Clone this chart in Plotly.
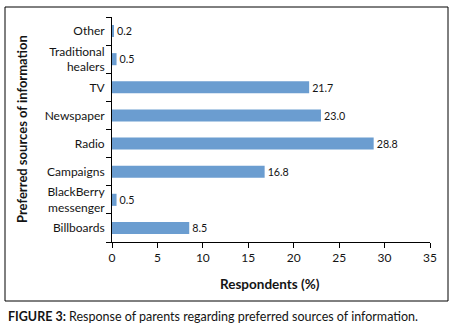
import plotly.graph_objects as go

categories = ["Billboards", "BlackBerry<br>messenger", "Campaigns", "Radio",
              "Newspaper", "TV", "Traditional<br>healers", "Other"]
values = [8.5, 0.5, 16.8, 28.8, 23.0, 21.7, 0.5, 0.2]
x_ticks = [0, 5, 10, 15, 20, 25, 30, 35]

FONT = "Lato, Carlito, 'Liberation Sans', sans-serif"
BAR = "#6B9DD0"
TXT = "#141414"

L, R, T, B = 112, 24, 17, 85
W, H = 454, 327
pw, ph = W - L - R, H - T - B

def px(x):
    return (x - L) / pw

def py(y):
    return (H - B - y) / ph

fig = go.Figure(go.Bar(
    x=values, y=categories, orientation="h",
    marker=dict(color=BAR, line=dict(width=0)),
    width=0.43,
    texttemplate="%{x:.1f}", textposition="outside",
    textfont=dict(family=FONT, size=11.5, color=TXT),
    cliponaxis=False,
))

fig.update_layout(
    width=W, height=H,
    margin=dict(l=L, r=R, t=T, b=B, autoexpand=False),
    paper_bgcolor="white", plot_bgcolor="white",
    showlegend=False,
    font=dict(family=FONT, size=12, color=TXT),
    xaxis=dict(range=[0, 35], tickvals=x_ticks, showgrid=False, zeroline=False,
               showline=True, linecolor="black", linewidth=1,
               ticks="outside", ticklen=5, tickcolor="black",
               tickfont=dict(size=12, color=TXT), automargin=False),
    yaxis=dict(categoryorder="array", categoryarray=categories,
               range=[-0.5, 7.5], showgrid=False, zeroline=False,
               showline=True, linecolor="black", linewidth=1,
               ticks="outside", ticklen=5, tickcolor="black",
               tickson="boundaries", ticklabelstandoff=4,
               tickfont=dict(size=12, color=TXT), automargin=False),
    shapes=[dict(type="rect", xref="paper", yref="paper",
                 x0=px(5), x1=px(448), y0=py(301), y1=py(7),
                 line=dict(color="black", width=1), fillcolor="rgba(0,0,0,0)",
                 layer="below")],
    annotations=[
        dict(text="<b>Preferred sources of information</b>", xref="paper", yref="paper",
             x=px(22), y=py(129), textangle=-90, showarrow=False,
             font=dict(size=13, color=TXT), xanchor="center", yanchor="middle"),
        dict(text="<b>Respondents (%)</b>", xref="paper", yref="paper",
             x=px(270), y=py(284), showarrow=False,
             font=dict(size=13.5, color=TXT), xanchor="center", yanchor="middle"),
        dict(text="<b>FIGURE 3:</b> Response of parents regarding preferred sources of information.",
             xref="paper", yref="paper", x=px(6), y=py(316), showarrow=False,
             font=dict(size=12.5, color=TXT), xanchor="left", yanchor="middle"),
    ],
)

fig.write_html("out.html", config={"displayModeBar": False},
               post_script="document.body.style.margin='0';document.body.style.padding='0';")
